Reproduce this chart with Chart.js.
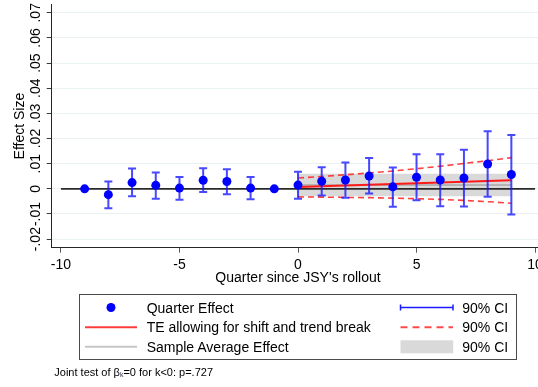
<!DOCTYPE html>
<html>
<head>
<meta charset="utf-8">
<title>Quarter effects since JSY's rollout</title>
<script src="https://cdn.jsdelivr.net/npm/chart.js@4.4.1/dist/chart.umd.min.js"></script>
<style>
  html, body { margin: 0; padding: 0; background: #fff; overflow: hidden; }
  #wrap { position: relative; width: 538px; height: 387px; overflow: hidden;
          font-family: "Liberation Sans", Arial, sans-serif; color: #000; }
  #chart { position: absolute; left: 0; top: 0; }
  #legendBox { position: absolute; left: 78.5px; top: 293.8px; width: 438px; height: 65.8px;
               box-sizing: border-box; border: 1px solid #4a4a4a; }
  #legendSymbols { position: absolute; left: 0; top: 0; width: 538px; height: 387px; pointer-events: none; }
  .lg { position: absolute; font-size: 14px; line-height: 16px; white-space: nowrap; }
  #note { position: absolute; left: 54.3px; top: 365.5px; font-size: 11px; line-height: 13px; white-space: nowrap; }
  #note sub { font-size: 7px; vertical-align: -1px; color: #335; }
</style>
</head>
<body>
<div id="wrap">
  <canvas id="chart" width="600" height="387"></canvas>
  <div id="legendBox"></div>
  <svg id="legendSymbols" width="538" height="387">
    <circle cx="111" cy="307.5" r="4.5" fill="#0000ff"/>
    <line x1="85" y1="327.3" x2="137" y2="327.3" stroke="#ff3d3d" stroke-width="2"/>
    <line x1="85" y1="346.8" x2="137" y2="346.8" stroke="#c6c6c6" stroke-width="2"/>
    <g stroke="#1a1aff" stroke-width="1.5">
      <line x1="400.5" y1="307.5" x2="453" y2="307.5"/>
      <line x1="400.5" y1="304.5" x2="400.5" y2="310.5"/>
      <line x1="453" y1="304.5" x2="453" y2="310.5"/>
    </g>
    <line x1="400.5" y1="327.3" x2="453" y2="327.3" stroke="#ff4a4a" stroke-width="2" stroke-dasharray="7 5"/>
    <rect x="400.5" y="340.3" width="52.7" height="13" fill="#d9d9d9"/>
  </svg>
  <span class="lg" style="left:146.7px;top:299.5px">Quarter Effect</span>
  <span class="lg" style="left:146.7px;top:319.3px">TE allowing for shift and trend break</span>
  <span class="lg" style="left:146.7px;top:338.8px">Sample Average Effect</span>
  <span class="lg" style="left:462.3px;top:299.5px">90% CI</span>
  <span class="lg" style="left:462.3px;top:319.3px">90% CI</span>
  <span class="lg" style="left:462.3px;top:338.8px">90% CI</span>
  <div id="note">Joint test of β<sub>k</sub>=0 for k&lt;0: p=.727</div>
</div>
<script>
// Quarter-by-quarter event-study estimates with 90% confidence intervals
const quarters      = [-9, -8, -7, -6, -5, -4, -3, -2, -1, 0, 1, 2, 3, 4, 5, 6, 7, 8, 9];
const quarterEffect = [0, -0.0023, 0.0025, 0.0014, 0.0003, 0.0034, 0.0029, 0.0003, 0,
                       0.0015, 0.0030, 0.0035, 0.0051, 0.0008, 0.0046, 0.0035, 0.0043, 0.0099, 0.0057];
const ciLow         = [null, -0.0077, -0.0029, -0.0039, -0.0043, -0.0013, -0.0021, -0.0041, null,
                       -0.0039, -0.0026, -0.0035, -0.0018, -0.0071, -0.0045, -0.0069, -0.0070, -0.0031, -0.0102];
const ciHigh        = [null, 0.0029, 0.0081, 0.0065, 0.0047, 0.0082, 0.0078, 0.0047, null,
                       0.0068, 0.0086, 0.0105, 0.0123, 0.0085, 0.0138, 0.0138, 0.0155, 0.0229, 0.0214];

// Treatment effect allowing for a shift and a trend break (post-rollout quarters)
const postQuarters = [0, 1, 2, 3, 4, 5, 6, 7, 8, 9];
const teFit   = [0.0007, 0.0010, 0.0013, 0.0016, 0.0019, 0.0022, 0.0025, 0.0028, 0.0031, 0.0034];
const teUpper = [0.0043, 0.0049, 0.0056, 0.0063, 0.0071, 0.0080, 0.0090, 0.0101, 0.0112, 0.0124];
const teLower = [-0.0032, -0.0033, -0.0034, -0.0035, -0.0037, -0.0039, -0.0042, -0.0046, -0.0051, -0.0057];

// Sample average effect over the post period and its 90% CI
const avgEffect = [0.0015, 0.0015];
const avgLow    = [-0.0029, -0.0029];
const avgHigh   = [0.0060, 0.0060];
const avgSpan   = [0, 9];

// Axis ticks
const xTicks = [-10, -5, 0, 5, 10];
const yTicks = [-0.02, -0.01, 0, 0.01, 0.02, 0.03, 0.04, 0.05, 0.06, 0.07];

const FONT = '"Liberation Sans", Arial, sans-serif';
Chart.defaults.font.family = FONT;

const pts = (xs, ys) => xs.map((x, i) => ({ x, y: ys[i] }));
const fmtY = v => {
  const r = Math.round(v * 100);
  if (r === 0) return '0';
  return (r < 0 ? '-' : '') + '.' + String(Math.abs(r)).padStart(2, '0');
};

// Vertical 90% CI whiskers drawn just beneath the quarter markers
const errorBars = {
  id: 'errorBars',
  beforeDatasetDraw(chart, args) {
    if (chart.data.datasets[args.index].label !== 'Quarter Effect') return;
    const { ctx, scales: { x, y } } = chart;
    ctx.save();
    ctx.strokeStyle = 'rgba(20,20,255,0.78)';
    ctx.lineWidth = 2;
    quarters.forEach((q, i) => {
      if (ciLow[i] == null) return;
      const px = x.getPixelForValue(q);
      const lo = y.getPixelForValue(ciLow[i]);
      const hi = y.getPixelForValue(ciHigh[i]);
      ctx.beginPath();
      ctx.moveTo(px, lo); ctx.lineTo(px, hi);
      ctx.moveTo(px - 4, lo); ctx.lineTo(px + 4, lo);
      ctx.moveTo(px - 4, hi); ctx.lineTo(px + 4, hi);
      ctx.stroke();
    });
    ctx.restore();
  }
};

const line = (label, data, color, width, extra) => Object.assign({
  label, data, showLine: true, borderColor: color, borderWidth: width,
  pointRadius: 0, fill: false, tension: 0
}, extra || {});

new Chart(document.getElementById('chart'), {
  type: 'scatter',
  data: {
    datasets: [
      { label: 'Quarter Effect', data: pts(quarters, quarterEffect), pointRadius: 4.5,
        pointBackgroundColor: '#0000ff', pointBorderWidth: 0, showLine: false, order: 0 },
      line('TE allowing for shift and trend break', pts(postQuarters, teFit), '#ff1a1a', 2, { order: 1 }),
      line('TE upper', pts(postQuarters, teUpper), 'rgba(255,30,30,0.85)', 1.6, { borderDash: [6, 4], order: 2 }),
      line('TE lower', pts(postQuarters, teLower), 'rgba(255,30,30,0.85)', 1.6, { borderDash: [6, 4], order: 3 }),
      line('Zero', pts([-10, 10], [0, 0]), '#2a2a2a', 1.6, { order: 4 }),
      line('Sample Average Effect', pts(avgSpan, avgEffect), 'rgba(150,150,150,0.55)', 2, { order: 5 }),
      line('Average upper', pts(avgSpan, avgHigh), 'rgba(0,0,0,0)', 0,
           { fill: '+1', backgroundColor: '#d9d9d9', order: 6 }),
      line('Average lower', pts(avgSpan, avgLow), 'rgba(0,0,0,0)', 0, { order: 7 })
    ]
  },
  options: {
    responsive: false,
    animation: false,
    events: [],
    layout: { padding: { left: 0, top: 0, right: 55.7, bottom: 100 } },
    plugins: { legend: { display: false }, tooltip: { enabled: false } },
    scales: {
      x: {
        type: 'linear', min: -10.39, max: 10.39,
        afterBuildTicks: s => { s.ticks = xTicks.map(v => ({ value: v })); },
        afterFit: s => { s.height = 39.3; s.paddingLeft = 0; s.paddingRight = 0; },
        border: { display: true, color: '#262626', width: 1 },
        grid: { drawOnChartArea: false, drawTicks: true, tickLength: 5, tickColor: '#5a5a5a' },
        ticks: { padding: 4, maxRotation: 0, autoSkip: false, color: '#000', font: { size: 14 },
                 callback: v => String(v) },
        title: { display: true, text: "Quarter since JSY's rollout", color: '#000',
                 font: { size: 14 }, padding: 0 }
      },
      y: {
        type: 'linear', min: -0.0234, max: 0.0733,
        afterBuildTicks: s => { s.ticks = yTicks.map(v => ({ value: v })); },
        afterFit: s => { s.width = 51.7; s.paddingTop = 0; s.paddingBottom = 0; },
        border: { display: true, color: '#262626', width: 1 },
        grid: { color: '#e9f1f2', lineWidth: 1, drawTicks: true, tickLength: 5, tickColor: '#3a3a3a' },
        ticks: { minRotation: 90, maxRotation: 90, crossAlign: 'center', padding: -2, autoSkip: false,
                 color: '#000', font: { size: 14 }, callback: v => fmtY(v) },
        title: { display: true, text: 'Effect Size', color: '#000', font: { size: 14 },
                 padding: { top: 11.6, bottom: 0 } }
      }
    }
  },
  plugins: [errorBars]
});
</script>
</body>
</html>
